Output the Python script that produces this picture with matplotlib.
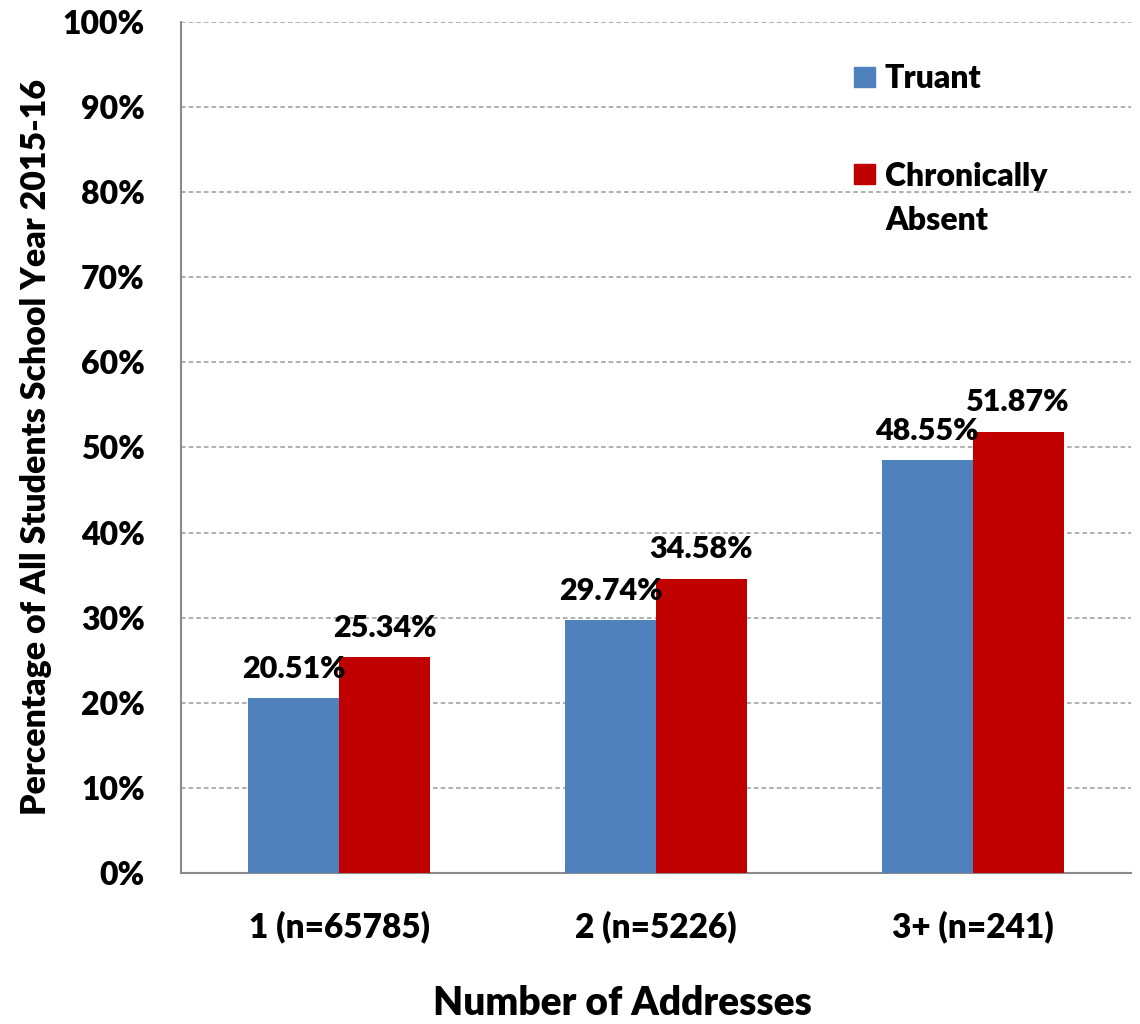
import matplotlib
matplotlib.use('Agg')
import matplotlib.pyplot as plt
import numpy as np
from matplotlib.patches import Rectangle

PESO = 'heavy'
plt.rcParams['font.family'] = ['Lato', 'DejaVu Sans']
plt.rcParams['font.weight'] = PESO

categorias = ['1 (n=65785)', '2 (n=5226)', '3+ (n=241)']
truant = [20.51, 29.74, 48.55]
cronico = [25.34, 34.58, 51.87]
series = ['Truant', 'Chronically\nAbsent']
cores = ['#4F81BD', '#C00000']

fig = plt.figure(figsize=(11.4, 10.24), dpi=100)
ax = fig.add_axes([0.1588, 0.1475, 0.8333, 0.831])

x = np.arange(len(categorias))
w = 0.287
b1 = ax.bar(x - w/2, truant, w, color=cores[0], zorder=3)
b2 = ax.bar(x + w/2, cronico, w, color=cores[1], zorder=3)

for barras, vals in [(b1, truant), (b2, cronico)]:
    for r, v in zip(barras, vals):
        ax.annotate(f'{v:.2f}%', (r.get_x() + r.get_width()/2, v),
                    xytext=(0, 11), textcoords='offset points',
                    ha='center', va='bottom', fontsize=22, fontweight=PESO, zorder=5)

ax.set_xlim(-0.5, 2.5)
ax.set_ylim(0, 100)
ax.set_yticks(np.arange(0, 101, 10))
ax.set_yticklabels([f'{v}%' for v in range(0, 101, 10)])
ax.set_xticks(x)
ax.set_xticklabels(categorias)
ax.tick_params(axis='y', length=0, pad=26, labelsize=23)
ax.tick_params(axis='x', length=0, pad=27, labelsize=24)
for t in ax.get_xticklabels() + ax.get_yticklabels():
    t.set_fontweight(PESO)

ax.yaxis.grid(True, linestyle=(0, (3, 2)), color='#9a9a9a', linewidth=1.1, zorder=0)
ax.set_axisbelow(True)
for s in ['top', 'right']:
    ax.spines[s].set_visible(False)
for s in ['left', 'bottom']:
    ax.spines[s].set_color('#8a8a8a')
    ax.spines[s].set_linewidth(1.5)

ax.set_ylabel('Percentage of All Students School Year 2015-16', fontsize=24.4,
              fontweight=PESO, labelpad=8)
ax.set_xlabel('Number of Addresses', fontsize=28, fontweight=PESO, labelpad=30)
ax.xaxis.label.set_x(0.465)

# legenda manual (quadrado alinhado com a primeira linha)
for cor, y0 in zip(cores, [0.924, 0.8096]):
    ax.add_patch(Rectangle((0.708, y0), 0.022, 0.0235, transform=ax.transAxes,
                           color=cor, clip_on=False, zorder=6))
ax.text(0.741, 0.924 - 0.0015, series[0], transform=ax.transAxes, ha='left',
        va='baseline', fontsize=23, fontweight=PESO, zorder=6)
ax.text(0.741, 0.7556, series[1], transform=ax.transAxes, ha='left',
        va='baseline', fontsize=23, fontweight=PESO, linespacing=1.63, zorder=6)

fig.savefig('out.png', dpi=100)
